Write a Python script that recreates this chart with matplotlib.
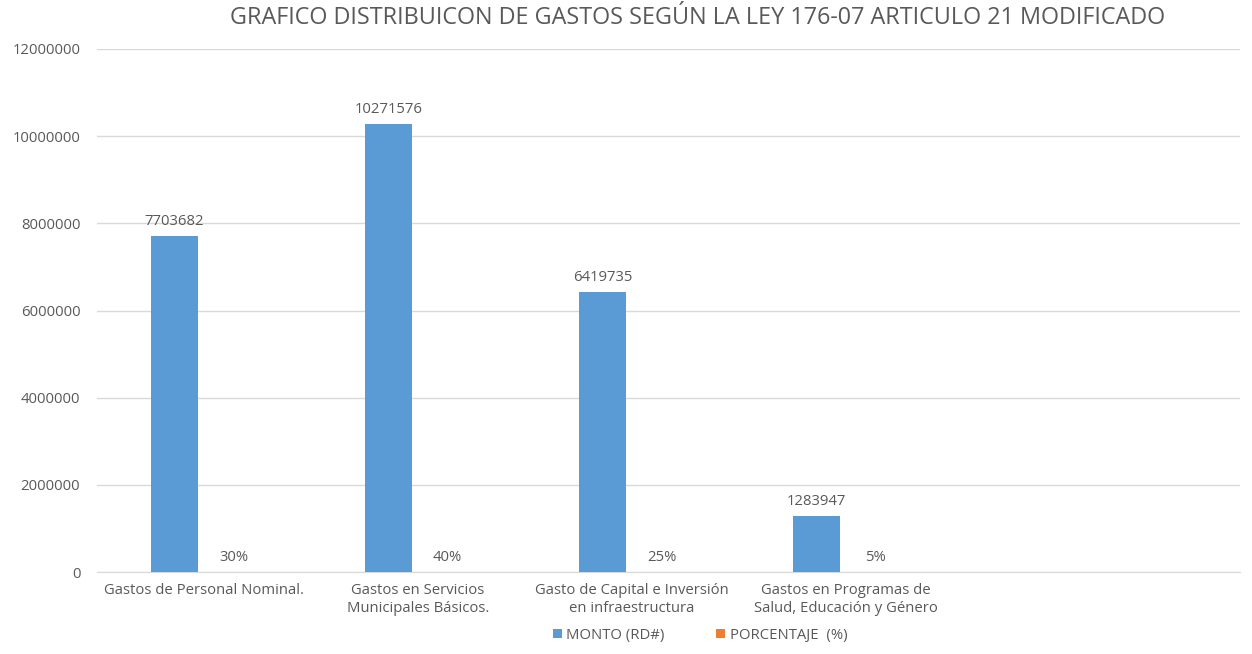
import matplotlib
matplotlib.use('Agg')
import matplotlib.pyplot as plt
import numpy as np

categories = ['Gastos de Personal Nominal.',
              'Gastos en Servicios\nMunicipales Básicos.',
              'Gasto de Capital e Inversión\nen infraestructura',
              'Gastos en Programas de\nSalud, Educación y Género']
monto = [7703682, 10271576, 6419735, 1283947]
porcentaje = [0.30, 0.40, 0.25, 0.05]
pct_labels = ['30%', '40%', '25%', '5%']
y_ticks = [0, 2000000, 4000000, 6000000, 8000000, 10000000, 12000000]

blue = '#5B9BD5'
orange = '#ED7D31'
text_gray = '#595959'
fs = 10.7

plt.rcParams['font.family'] = ['Open Sans', 'DejaVu Sans']

fig = plt.figure(figsize=(12.52, 6.54), dpi=100)
ax = fig.add_axes([97 / 1252, 1 - 572 / 654, (1240 - 97) / 1252, (572 - 49) / 654])

x = np.arange(len(categories))
w = 0.22
off = 0.138
b1 = ax.bar(x - off, monto, width=w, color=blue, label='MONTO (RD#)', zorder=3)
b2 = ax.bar(x + off, porcentaje, width=w, color=orange, label='PORCENTAJE  (%)', zorder=3)

for xi, v in zip(x, monto):
    ax.annotate(str(v), (xi - off, v), xytext=(0, 5), textcoords='offset points',
                ha='center', va='bottom', fontsize=fs, color=text_gray)
for xi, v, lab in zip(x, porcentaje, pct_labels):
    ax.annotate(lab, (xi + off, v), xytext=(0, 5), textcoords='offset points',
                ha='center', va='bottom', fontsize=fs, color=text_gray)

ax.set_ylim(0, 12000000)
ax.set_yticks(y_ticks)
ax.set_yticklabels([str(t) for t in y_ticks])
ax.set_xlim(-0.5, 4.84)
ax.set_xticks(x)
ax.set_xticklabels(categories, fontsize=fs, color=text_gray, linespacing=1.25)
ax.tick_params(axis='y', labelsize=fs, labelcolor=text_gray, length=0, pad=12)
ax.tick_params(axis='x', length=0, pad=8)
ax.grid(axis='y', color='#D9D9D9', linewidth=1, zorder=0)
for s in ['top', 'right', 'left']:
    ax.spines[s].set_visible(False)
ax.spines['bottom'].set_color('#D9D9D9')

fig.text(698 / 1252, 1 - 18 / 654, 'GRAFICO DISTRIBUICON DE GASTOS SEGÚN LA LEY 176-07 ARTICULO 21 MODIFICADO',
         ha='center', va='center', fontsize=16.8, color=text_gray)

fig.legend(handles=[b1, b2], loc='center', bbox_to_anchor=(700 / 1252, 1 - 635 / 654),
           ncol=2, frameon=False, fontsize=fs, labelcolor=text_gray,
           handlelength=0.6, handleheight=0.6, columnspacing=3.5, handletextpad=0.3)

fig.savefig('out.png', dpi=100)
